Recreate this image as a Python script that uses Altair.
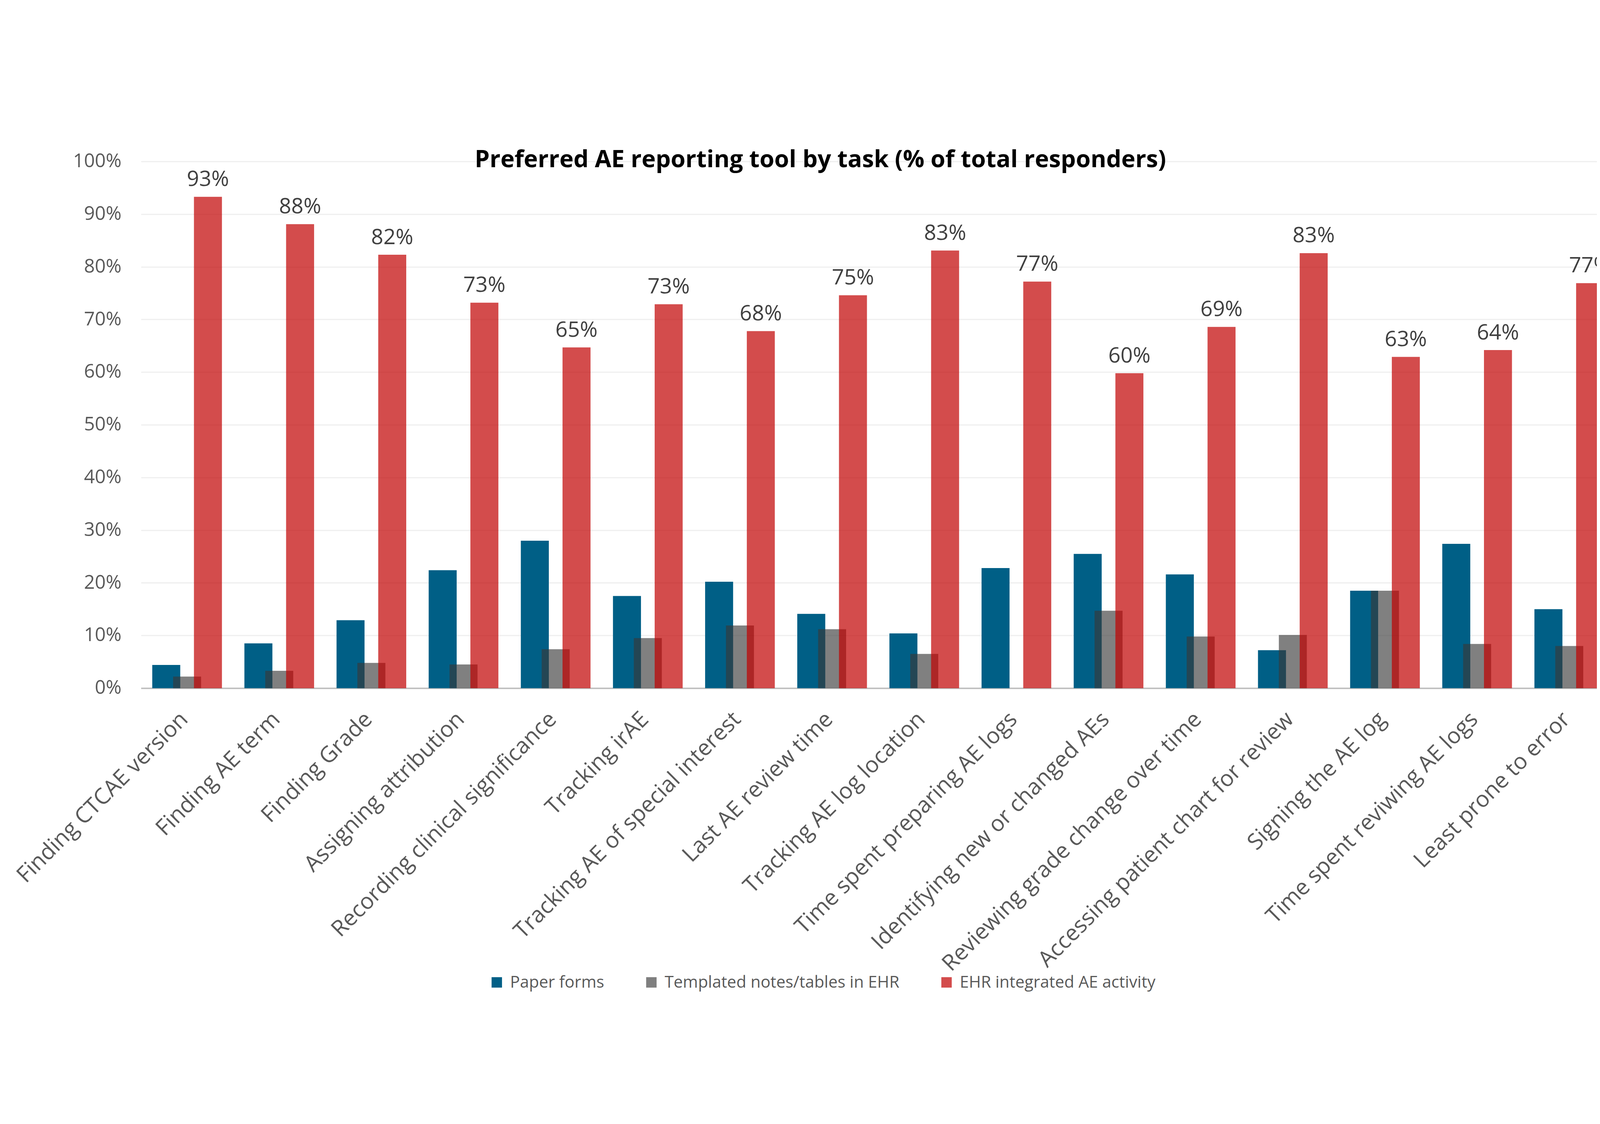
import altair as alt
import pandas as pd

categories = [
    "Finding CTCAE version", "Finding AE term", "Finding Grade", "Assigning attribution",
    "Recording clinical significance", "Tracking irAE", "Tracking AE of special interest",
    "Last AE review time", "Tracking AE log location", "Time spent preparing AE logs",
    "Identifying new or changed AEs", "Reviewing grade change over time",
    "Accessing patient chart for review", "Signing the AE log",
    "Time spent reviwing AE logs", "Least prone to error",
]
paper_forms = [4.4, 8.5, 12.9, 22.4, 28.0, 17.5, 20.2, 14.1, 10.4, 22.8, 25.5, 21.6, 7.2, 18.5, 27.4, 15.0]
templated_notes = [2.2, 3.3, 4.8, 4.5, 7.4, 9.5, 11.9, 11.2, 6.5, 0.0, 14.7, 9.8, 10.1, 18.5, 8.4, 8.0]
ehr_integrated = [93.3, 88.1, 82.3, 73.2, 64.7, 72.9, 67.8, 74.6, 83.1, 77.2, 59.8, 68.6, 82.6, 62.9, 64.2, 76.9]

series_names = ["Paper forms", "Templated notes/tables in EHR", "EHR integrated AE activity"]
legend_colors = ["#005f86", "#7f7f7f", "#d34c4c"]
title_text = ["Preferred AE reporting tool by task (% of total responders)"]

df = pd.DataFrame({"task": categories, "paper": paper_forms,
                   "templ": templated_notes, "ehr": ehr_integrated})
legend_df = pd.DataFrame({"series": series_names})
title_df = pd.DataFrame({"t": title_text})

FONT = "Open Sans"
W, H = 4888, 1768

x_enc = alt.X(
    "task:N", sort=categories,
    scale=alt.Scale(range=[0, 4950], paddingInner=0, paddingOuter=0),
    axis=alt.Axis(title=None, labelAngle=-45, labelAlign="right", labelBaseline="top",
                  labelFontSize=75, labelColor="#595959", labelFont=FONT, labelLimit=3000,
                  labelPadding=67, labelOffset=-35, ticks=False, domainColor="#bfbfbf",
                  domainWidth=5, grid=False, labelOverlap=False),
)

y_axis = alt.Axis(title=None, values=list(range(0, 101, 10)), labelExpr="datum.value + '%'",
                  labelFontSize=64, labelColor="#595959", labelFont=FONT, labelPadding=66,
                  ticks=False, domain=False, gridColor="#efefef", gridWidth=4)
y_scale = alt.Scale(domain=[0, 100])

base = alt.Chart(df)

blue = base.mark_bar(color="#005f86", width=94, xOffset=-70).encode(
    x=x_enc, y=alt.Y("paper:Q", scale=y_scale, axis=y_axis))
gray = base.mark_bar(color="#383838", opacity=0.64, width=94, xOffset=0).encode(
    x=x_enc, y=alt.Y("templ:Q", scale=y_scale, axis=y_axis))
red = base.mark_bar(color="#c00000", opacity=0.7, width=94, xOffset=70).encode(
    x=x_enc, y=alt.Y("ehr:Q", scale=y_scale, axis=y_axis))
labels = base.transform_calculate(
    lbl="format(datum.ehr, '.0f') + '%'"
).mark_text(xOffset=70, dy=-36, fontSize=72, font=FONT, color="#404040",
            baseline="alphabetic", align="center").encode(
    x=x_enc, y=alt.Y("ehr:Q", scale=y_scale, axis=y_axis), text="lbl:N")

title_layer = alt.Chart(title_df).mark_text(
    fontSize=80, font=FONT, fontWeight="bold", color="#000000",
    align="center", baseline="alphabetic").encode(
    x=alt.value(2281), y=alt.value(19), text="t:N")

legend_layer = alt.Chart(legend_df).mark_square(opacity=0, filled=True).encode(
    color=alt.Color("series:N", sort=series_names,
                    scale=alt.Scale(domain=series_names, range=legend_colors),
                    legend=alt.Legend(title=None, orient="none", legendX=1167, legendY=2728,
                                      direction="horizontal", symbolType="square",
                                      symbolSize=1225, symbolOpacity=1, symbolStrokeWidth=0,
                                      labelFontSize=55, labelFont=FONT, labelColor="#595959",
                                      labelLimit=3000, labelOffset=17, columnPadding=130,
                                      padding=0)))

chart = alt.layer(blue, gray, red, labels, title_layer, legend_layer).properties(
    width=W, height=H,
    autosize=alt.AutoSizeParams(type="none"),
    padding={"left": 463, "top": 86, "right": 0, "bottom": 1007},
    background="white",
).configure_view(stroke=None)

chart.save("out.html", embed_options={"renderer": "svg", "actions": False})
